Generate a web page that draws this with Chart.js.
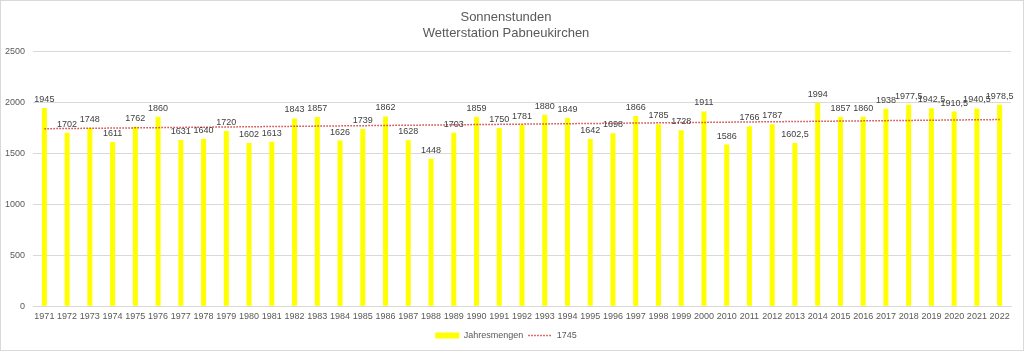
<!DOCTYPE html>
<html>
<head>
<meta charset="utf-8">
<script src="https://cdn.jsdelivr.net/npm/chart.js@4"></script>
<style>
html,body{margin:0;padding:0;background:#fff;}
#wrap{width:1022px;height:349px;border:1px solid #d9d9d9;position:relative;}
canvas{display:block;}
</style>
</head>
<body>
<div id="wrap"><canvas id="c" width="1022" height="349"></canvas></div>
<script>
const years = ['1971','1972','1973','1974','1975','1976','1977','1978','1979','1980','1981','1982','1983','1984','1985','1986','1987','1988','1989','1990','1991','1992','1993','1994','1995','1996','1997','1998','1999','2000','2010','2011','2012','2013','2014','2015','2016','2017','2018','2019','2020','2021','2022'];
const sunHours = [1945,1702,1748,1611,1762,1860,1631,1640,1720,1602,1613,1843,1857,1626,1739,1862,1628,1448,1703,1859,1750,1781,1880,1849,1642,1698,1866,1785,1728,1911,1586,1766,1787,1602.5,1994,1857,1860,1938,1977.5,1942.5,1910.5,1940.5,1978.5];
// trend line: first and last value only
const trendValues = [1742,null,null,null,null,null,null,null,null,null,null,null,null,null,null,null,null,null,null,null,null,null,null,null,null,null,null,null,null,null,null,null,null,null,null,null,null,null,null,null,null,null,1832];
const yTicks = [0,500,1000,1500,2000,2500];
const titleLines = ['Sonnenstunden','Wetterstation Pabneukirchen'];
const seriesName = 'Jahresmengen';
const trendName = '1745';

const FONT = "'Liberation Sans', Arial, sans-serif";

const valueLabels = {
  id:'valueLabels',
  afterDatasetsDraw(chart){
    const ctx = chart.ctx;
    const meta = chart.getDatasetMeta(0);
    ctx.save();
    ctx.font = '9px ' + FONT;
    ctx.fillStyle = '#404040';
    ctx.textAlign = 'center';
    ctx.textBaseline = 'bottom';
    meta.data.forEach((bar,i)=>{
      const v = chart.data.datasets[0].data[i];
      ctx.fillText(String(v).replace('.',','), bar.x, bar.y - 4);
    });
    ctx.restore();
  }
};

new Chart(document.getElementById('c'), {
  data:{
    labels: years,
    datasets:[
      {type:'bar', label:seriesName, data:sunHours, backgroundColor:'#ffff00', borderWidth:0, barPercentage:0.22, categoryPercentage:1.0, order:2},
      {type:'line', label:trendName, data:trendValues, spanGaps:true, borderColor:'#d04040', borderWidth:1.5, borderDash:[1.5,1.5], pointRadius:0, fill:false, order:1}
    ]
  },
  options:{
    responsive:false,
    animation:false,
    layout:{padding:{left:0,right:12,top:0,bottom:0}},
    plugins:{
      title:{display:true, text:titleLines, color:'#595959', font:{family:FONT, size:13, weight:'normal', lineHeight:1.25}, padding:{top:8,bottom:10}},
      legend:{position:'bottom', labels:{
        usePointStyle:true, pointStyleWidth:24, boxHeight:6, color:'#595959', font:{family:FONT,size:9}, padding:5,
        generateLabels(chart){
          const ds = chart.data.datasets;
          return [
            {text:ds[0].label, fillStyle:'#ffff00', strokeStyle:'#ffff00', lineWidth:0, pointStyle:'rect', datasetIndex:0, hidden:false, fontColor:'#595959'},
            {text:ds[1].label, fillStyle:'rgba(0,0,0,0)', strokeStyle:'#d04040', lineWidth:1.5, lineDash:[1.5,1.5], pointStyle:'line', datasetIndex:1, hidden:false, fontColor:'#595959'}
          ];
        }
      }},
      tooltip:{enabled:false}
    },
    scales:{
      x:{grid:{display:false}, border:{display:true,color:'#d9d9d9'}, afterFit(ax){ax.height += 7;}, ticks:{autoSkip:false, maxRotation:0, color:'#595959', font:{family:FONT,size:9}, padding:-3}},
      y:{min:0,max:2500, afterBuildTicks(ax){ax.ticks = yTicks.map(v=>({value:v}));}, afterFit(ax){ax.width = 32;}, grid:{color:'#d9d9d9', drawTicks:false}, border:{display:false}, ticks:{color:'#595959', font:{family:FONT,size:9}, padding:8, callback:(v)=>String(v)}}
    }
  },
  plugins:[valueLabels]
});
</script>
</body>
</html>
